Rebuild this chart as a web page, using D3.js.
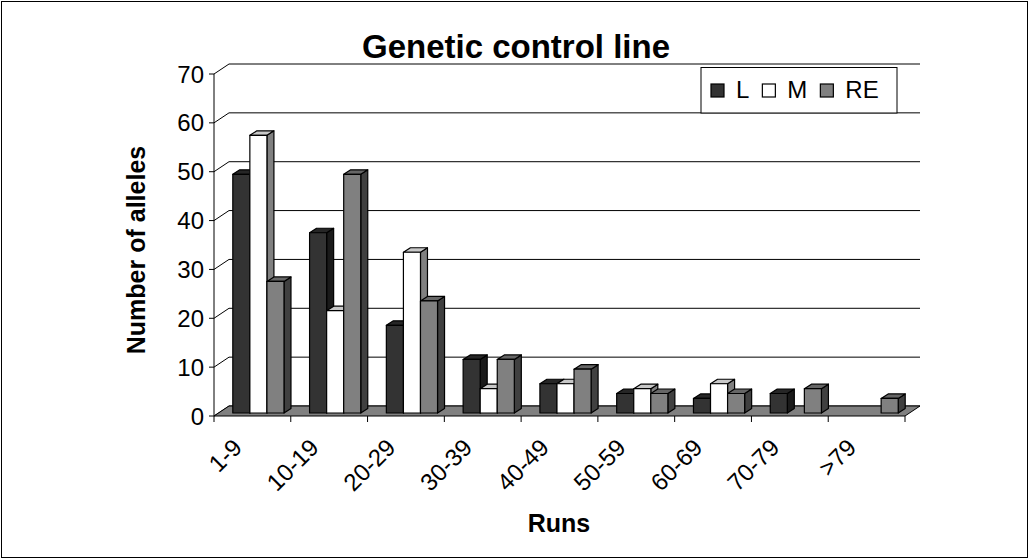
<html>
<head>
<script src="https://cdn.jsdelivr.net/npm/d3@7/dist/d3.min.js"></script>
<style>
  body { margin: 0; background: #fff; }
  svg { display: block; font-family: "Liberation Sans", Arial, sans-serif; }
</style>
</head>
<body>
<svg id="chart" width="1029" height="559"></svg>
<script>
// data
var categories = ["1-9", "10-19", "20-29", "30-39", "40-49", "50-59", "60-69", "70-79", ">79"];
var seriesNames = ["L", "M", "RE"];
var valuesL  = [49, 37, 18, 11, 6, 4, 3, 4, 0];
var valuesM  = [57, 21, 33, 5, 6, 5, 6, 0, 0];
var valuesRE = [27, 49, 23, 11, 9, 4, 4, 5, 3];
var yTicks = [0, 10, 20, 30, 40, 50, 60, 70];

var series = [valuesL, valuesM, valuesRE];
var frontFill = ["#333333", "#ffffff", "#808080"];
var sideFill  = ["#1a1a1a", "#808080", "#404040"];
var topFill   = ["#262626", "#c8c8c8", "#666666"];

var svg = d3.select("#chart");
var width = 1029, height = 559;

// plot geometry (oblique 3d look)
var x0 = 214, x1 = 905, wallDx = 15, wallDy = -10;
var barDx = 6, barDepthX = 7, barDepthY = -4.5;

var xScale = d3.scaleBand().domain(categories).range([x0, x1]).paddingInner(0).paddingOuter(0);
var yScale = d3.scaleLinear().domain([0, 70]).range([416, 74]);   // front plane
var barY   = d3.scaleLinear().domain([0, 70]).range([413, 72]);   // plane of bar fronts
var band = xScale.bandwidth();
var barW = band / 4.5;

svg.append("rect").attr("x", 1.5).attr("y", 1.5).attr("width", width - 3).attr("height", height - 3)
  .attr("fill", "#fff").attr("stroke", "#000").attr("stroke-width", 1);

// title
svg.append("text").attr("x", 516).attr("y", 58).attr("text-anchor", "middle")
  .attr("font-size", 33).attr("font-weight", "bold").text("Genetic control line");

// back wall gridlines + side wall diagonals
var grid = svg.append("g").attr("stroke", "#000").attr("stroke-width", 1).attr("fill", "none");
yTicks.forEach(function(v) {
  var y = yScale(v);
  grid.append("path").attr("d", "M" + x0 + "," + y + "L" + (x0 + wallDx) + "," + (y + wallDy) + "L" + (x1 + wallDx) + "," + (y + wallDy));
  grid.append("line").attr("x1", x0 - 5).attr("x2", x0).attr("y1", y).attr("y2", y);
});
grid.append("line").attr("x1", x0).attr("x2", x0).attr("y1", yScale(70)).attr("y2", yScale(0));

// floor
var yf = yScale(0);
svg.append("path")
  .attr("d", "M" + x0 + "," + yf + "L" + x1 + "," + yf + "L" + (x1 + wallDx) + "," + (yf + wallDy) + "L" + (x0 + wallDx) + "," + (yf + wallDy) + "Z")
  .attr("fill", "#808080").attr("stroke", "#000").attr("stroke-width", 1);

// category ticks
d3.range(categories.length + 1).forEach(function(k) {
  var x = x0 + k * band;
  svg.append("line").attr("x1", x).attr("x2", x).attr("y1", yf).attr("y2", yf + 6)
    .attr("stroke", "#000").attr("stroke-width", 1);
});

// bars, drawn left to right so each front covers the previous side
var bars = svg.append("g").attr("stroke", "#000").attr("stroke-width", 1.2).attr("stroke-linejoin", "round");
categories.forEach(function(c, i) {
  series.forEach(function(vals, s) {
    var v = vals[i];
    if (!v) return;
    var bx = xScale(c) + barDx + barW * 0.75 + s * barW;
    var yt = barY(v), yb = barY(0);
    bars.append("path")
      .attr("d", "M" + (bx + barW) + "," + yt + "L" + (bx + barW + barDepthX) + "," + (yt + barDepthY) +
        "L" + (bx + barW + barDepthX) + "," + (yb + barDepthY) + "L" + (bx + barW) + "," + yb + "Z")
      .attr("fill", sideFill[s]);
    bars.append("path")
      .attr("d", "M" + bx + "," + yt + "L" + (bx + barDepthX) + "," + (yt + barDepthY) +
        "L" + (bx + barW + barDepthX) + "," + (yt + barDepthY) + "L" + (bx + barW) + "," + yt + "Z")
      .attr("fill", topFill[s]);
    bars.append("rect").attr("x", bx).attr("y", yt).attr("width", barW).attr("height", yb - yt)
      .attr("fill", frontFill[s]);
  });
});

// y tick labels
svg.append("g").selectAll("text").data(yTicks).enter().append("text")
  .attr("x", 204).attr("y", function(d) { return yScale(d) + 8.5; })
  .attr("text-anchor", "end").attr("font-size", 24).text(function(d) { return d; });

// x tick labels, rotated
svg.append("g").selectAll("text").data(categories).enter().append("text")
  .attr("text-anchor", "end").attr("font-size", 24)
  .attr("transform", function(d) { return "translate(" + (xScale(d) + band / 2 - 9) + ",449) rotate(-45)"; })
  .text(function(d) { return d; });

// axis titles
svg.append("text").attr("x", 559).attr("y", 532).attr("text-anchor", "middle")
  .attr("font-size", 25).attr("font-weight", "bold").text("Runs");
svg.append("text").attr("transform", "translate(145,250) rotate(-90)").attr("text-anchor", "middle")
  .attr("font-size", 25).attr("font-weight", "bold").text("Number of alleles");

// legend
var lg = svg.append("g");
lg.append("rect").attr("x", 701).attr("y", 67.5).attr("width", 196).attr("height", 45.5)
  .attr("fill", "#fff").attr("stroke", "#000").attr("stroke-width", 1);
var lx = 711;
seriesNames.forEach(function(name, s) {
  lg.append("rect").attr("x", lx).attr("y", 84).attr("width", 13).attr("height", 13)
    .attr("fill", frontFill[s]).attr("stroke", "#000").attr("stroke-width", 1.2);
  var t = lg.append("text").attr("x", lx + 25).attr("y", 98).attr("font-size", 24).text(name);
  lx += 25 + t.node().getComputedTextLength() + 13;
});
</script>
</body>
</html>
